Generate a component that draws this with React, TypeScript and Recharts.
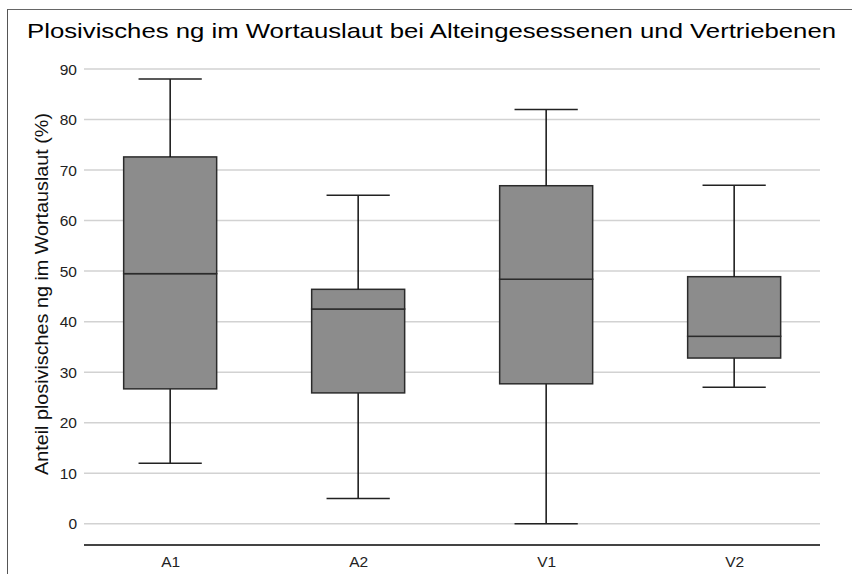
import React from "react";
import { ComposedChart, Bar, XAxis, YAxis, CartesianGrid } from "recharts";

const categories = ["A1", "A2", "V1", "V2"];
const mins = [12, 5, 0, 27];
const q1s = [26.7, 25.9, 27.7, 32.8];
const medians = [49.5, 42.5, 48.4, 37.1];
const q3s = [72.6, 46.4, 66.9, 48.9];
const maxs = [88, 65, 82, 67];
const yTicks = [0, 10, 20, 30, 40, 50, 60, 70, 80, 90];

const TITLE = "Plosivisches ng im Wortauslaut bei Alteingesessenen und Vertriebenen";
const Y_LABEL = "Anteil plosivisches ng im Wortauslaut (%)";

const FONT = "'Liberation Sans', Arial, sans-serif";
const BOX_FILL = "#8c8c8c";
const BOX_STROKE = "#2b2b2b";
const GRID = "#d2d2d2";

// stacked segments: invisible base, lower whisker, lower box, upper box, upper whisker
const data = categories.map((name, i) => ({
  name,
  x: i,
  base: mins[i],
  lowWhisker: q1s[i] - mins[i],
  boxLow: medians[i] - q1s[i],
  boxHigh: q3s[i] - medians[i],
  highWhisker: maxs[i] - q3s[i],
}));

const CAP_RATIO = 0.68;

const LowWhisker = (props: any) => {
  const { x, y, width, height } = props;
  const cx = x + width / 2;
  const cap = (width * CAP_RATIO) / 2;
  const bottom = y + height;
  return (
    <g>
      <line x1={cx} x2={cx} y1={y} y2={bottom} stroke="#111" strokeWidth={1.5} />
      <line x1={cx - cap} x2={cx + cap} y1={bottom} y2={bottom} stroke="#222" strokeWidth={1.5} />
    </g>
  );
};

const HighWhisker = (props: any) => {
  const { x, y, width, height } = props;
  const cx = x + width / 2;
  const cap = (width * CAP_RATIO) / 2;
  return (
    <g>
      <line x1={cx} x2={cx} y1={y} y2={y + height} stroke="#111" strokeWidth={1.5} />
      <line x1={cx - cap} x2={cx + cap} y1={y} y2={y} stroke="#222" strokeWidth={1.5} />
    </g>
  );
};

const BoxPart = (props: any) => {
  const { x, y, width, height } = props;
  return (
    <rect x={x} y={y} width={width} height={height} fill={BOX_FILL} stroke={BOX_STROKE} strokeWidth={1.5} />
  );
};

const YLabel = () => (
  <text
    x={41}
    y={294}
    transform="rotate(-90, 41, 294)"
    textAnchor="middle"
    dominantBaseline="central"
    fontFamily={FONT}
    fontSize={19}
    textLength={362}
    lengthAdjust="spacingAndGlyphs"
    fill="#111"
  >
    {Y_LABEL}
  </text>
);

export default function App() {
  return (
    <div style={{ position: "absolute", left: 0, top: 0, width: 852, height: 574, background: "#fff", overflow: "hidden" }}>
      <div
        style={{
          position: "absolute",
          left: 7,
          top: 9,
          width: 900,
          height: 600,
          borderLeft: "1.5px solid #555",
          borderTop: "1.5px solid #666",
        }}
      />
      <svg width={852} height={574} style={{ position: "absolute", left: 0, top: 0 }}>
        <text
          x={431.5}
          y={38}
          textAnchor="middle"
          fontFamily={FONT}
          fontSize={21}
          textLength={809}
          lengthAdjust="spacingAndGlyphs"
          fill="#000"
        >
          {TITLE}
        </text>
      </svg>
      <div style={{ position: "absolute", left: 0, top: 0 }}>
        <ComposedChart
          width={852}
          height={574}
          data={data}
          margin={{ top: 69, right: 32, left: 0, bottom: 0 }}
        >
          <CartesianGrid horizontal vertical={false} stroke={GRID} strokeWidth={1.5} />
          <XAxis
            type="number"
            dataKey="x"
            domain={[-0.461, 3.454]}
            ticks={[0, 1, 2, 3]}
            tickFormatter={(v: number) => categories[v]}
            height={29}
            axisLine={{ stroke: "#111", strokeWidth: 1.5 }}
            tickLine={false}
            tick={{ fontSize: 15.5, fill: "#222", fontFamily: FONT, dy: 5 }}
            tickMargin={0}
            allowDataOverflow
          />
          <YAxis
            type="number"
            domain={[-4.2, 90]}
            ticks={yTicks}
            width={84}
            axisLine={false}
            tickLine={false}
            tick={{ fontSize: 15.5, fill: "#222", fontFamily: FONT, dx: 1 }}
            label={{ content: () => <YLabel /> }}
            allowDataOverflow
          />
          <Bar dataKey="base" stackId="b" barSize={93} fill="none" shape={() => null} isAnimationActive={false} />
          <Bar dataKey="lowWhisker" stackId="b" barSize={93} shape={LowWhisker} isAnimationActive={false} />
          <Bar dataKey="boxLow" stackId="b" barSize={93} shape={BoxPart} isAnimationActive={false} />
          <Bar dataKey="boxHigh" stackId="b" barSize={93} shape={BoxPart} isAnimationActive={false} />
          <Bar dataKey="highWhisker" stackId="b" barSize={93} shape={HighWhisker} isAnimationActive={false} />
        </ComposedChart>
      </div>
    </div>
  );
}
